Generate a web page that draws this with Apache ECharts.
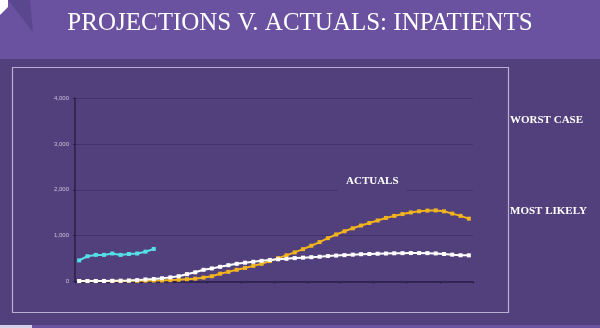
<!DOCTYPE html>
<html>
<head>
<meta charset="utf-8">
<script src="https://cdn.jsdelivr.net/npm/echarts@6/dist/echarts.min.js"></script>
<style>
html,body{margin:0;padding:0;background:#52407c;}
#c{width:600px;height:328px;}
</style>
</head>
<body>
<div id="c"></div>
<script>
var titleText = 'PROJECTIONS V. ACTUALS: INPATIENTS';
var yTicks = [0, 1000, 2000, 3000, 4000];
var categories = [];
for (var k = 1; k <= 48; k++) categories.push('W' + k);
var actualsName = 'ACTUALS';
var worstName = 'WORST CASE';
var likelyName = 'MOST LIKELY';
var actuals = [460, 550, 580, 580, 610, 580, 600, 610, 650, 710];
var worstCase = [10, 10, 10, 10, 10, 10, 15, 15, 18, 20, 22, 30, 38, 50, 62, 85, 115, 170, 210, 255,
  295, 340, 385, 445, 510, 570, 635, 705, 780, 860, 945, 1025, 1095, 1160, 1220, 1275, 1330, 1385, 1430, 1470,
  1505, 1530, 1545, 1550, 1530, 1480, 1430, 1370];
var mostLikely = [10, 10, 10, 12, 15, 18, 22, 30, 45, 55, 70, 90, 115, 160, 200, 255, 285, 320, 355, 385,
  410, 430, 450, 470, 485, 495, 510, 520, 530, 540, 555, 565, 575, 585, 595, 600, 605, 610, 615, 618,
  620, 620, 618, 612, 600, 585, 572, 570];

var panel = '#52407c';
var chart = echarts.init(document.getElementById('c'));
function series(name, data, color) {
  return {
    name: name, type: 'line', data: data, symbol: 'rect', symbolSize: 4,
    lineStyle: {color: color, width: 2}, itemStyle: {color: color},
    z: 5, animation: false
  };
}
chart.setOption({
  backgroundColor: panel,
  animation: false,
  grid: {left: 75, right: 127, top: 98, bottom: 46.5},
  xAxis: {
    type: 'category', data: categories, boundaryGap: true,
    axisLine: {lineStyle: {color: '#2a1f48', width: 1.5}},
    axisTick: {show: true, length: 2, lineStyle: {color: '#2a1f48'}},
    axisLabel: {show: false},
    splitLine: {show: false}
  },
  yAxis: {
    type: 'value', min: yTicks[0], max: yTicks[yTicks.length - 1], interval: 1000,
    axisLine: {show: true, lineStyle: {color: '#2a1f48', width: 1.5}},
    axisTick: {show: true, length: 2, lineStyle: {color: '#2a1f48'}},
    axisLabel: {fontSize: 6, color: '#c8c2dc', fontFamily: 'Liberation Sans', margin: 6,
      formatter: function (v) { return v.toLocaleString('en-US'); }},
    splitLine: {show: true, lineStyle: {color: '#43336c', width: 1}}
  },
  graphic: [
    {type: 'rect', shape: {x: 0, y: 0, width: 600, height: 59}, style: {fill: '#6a52a0'}, z: -10, silent: true},
    {type: 'polygon', shape: {points: [[0, 0], [8, 0], [8, 7], [0, 15]]}, style: {fill: '#ffffff'}, z: -9},
    {type: 'polygon', shape: {points: [[8, 0], [30, 0], [33, 32]]}, style: {fill: '#5b4690'}, z: -9},
    {type: 'rect', shape: {x: 0, y: 325, width: 600, height: 3}, style: {fill: '#6a52a0'}, z: -10},
    {type: 'rect', shape: {x: 0, y: 325, width: 32, height: 3}, style: {fill: '#d8d2e8'}, z: -9},
    {type: 'text', left: 'center', top: 11, style: {text: titleText, fill: '#ffffff',
      font: '25px "Liberation Serif", serif'}, z: 10},
    {type: 'rect', shape: {x: 12.5, y: 67.5, width: 496, height: 245}, style: {fill: 'none', stroke: '#b8b0d2', lineWidth: 1.2}, z: 1},
    {type: 'text', x: 338, y: 172, style: {text: actualsName, fill: '#ffffff',
      font: 'bold 11px "Liberation Serif", serif', backgroundColor: panel, padding: [4, 8, 4, 8]}, z: 3},
    {type: 'text', x: 510, y: 111, style: {text: worstName, fill: '#ffffff',
      font: 'bold 11px "Liberation Serif", serif', backgroundColor: panel, padding: [4, 2, 4, 0]}, z: 3},
    {type: 'text', x: 510, y: 202, style: {text: likelyName, fill: '#ffffff',
      font: 'bold 11px "Liberation Serif", serif', backgroundColor: panel, padding: [4, 2, 4, 0]}, z: 3}
  ],
  series: [
    series('Actuals', actuals, '#55dfe6'),
    series('Worst case', worstCase, '#f2b41e'),
    series('Most likely', mostLikely, '#ffffff')
  ]
});
</script>
</body>
</html>
